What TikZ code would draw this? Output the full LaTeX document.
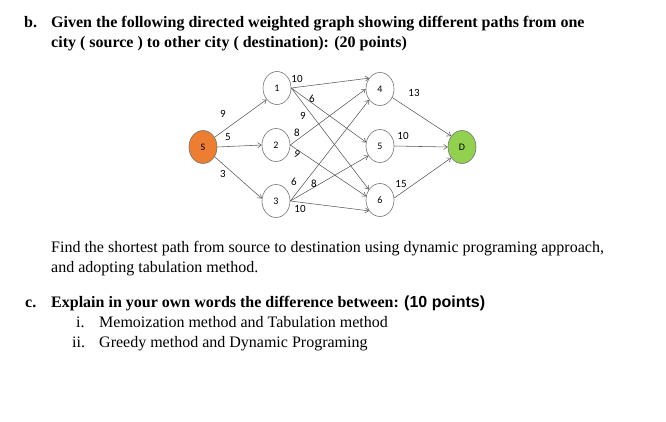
\documentclass[tikz,border=0pt]{standalone}
\usepackage{fontspec}
\setmainfont{Liberation Serif}
\newfontfamily\calfont{Carlito}
\newfontfamily\arialfont{Liberation Sans}
\usetikzlibrary{arrows.meta,shapes.geometric}
\begin{document}
\begin{tikzpicture}[x=1pt,y=-1pt,
  city/.style={ellipse,draw=black!55,line width=0.6pt,fill=white,minimum width=28pt,minimum height=33pt,inner sep=0pt,font=\calfont\fontsize{10}{11}\selectfont},
  road/.style={draw=black!65,line width=0.55pt,-{Straight Barb[length=3.5pt,width=5pt]}},
  wt/.style={font=\calfont\fontsize{11}{12}\selectfont,inner sep=0pt},
  para/.style={anchor=base west,inner sep=0pt,font=\fontsize{16}{18}\selectfont},
  bpara/.style={para,font=\bfseries\fontsize{16}{18}\selectfont}]
\useasboundingbox (0,0) rectangle (666,421);
% text
\node[bpara] (bl) at (24,27) {b.};
\node[bpara] (t1) at (51,27) {Given the following directed weighted graph showing different paths from one};
\node[bpara] (t2) at (51,47) {city ( source ) to other city ( destination): (20 points)};
\node[para] (p1) at (51,252) {Find the shortest path from source to destination using dynamic programing approach,};
\node[para] (p2) at (51,272) {and adopting tabulation method.};
\node[bpara] (cl) at (25,307) {c.};
\node[bpara] (c1) at (51,307) {Explain in your own words the difference between: {\arialfont(10 points)}};
\node[para] (i1) at (76,327) {i.};
\node[para] (i1t) at (99,327) {Memoization method and Tabulation method};
\node[para] (i2) at (72,347) {ii.};
\node[para] (i2t) at (99,347) {Greedy method and Dynamic Programing};
% graph
\node[city,fill={rgb,255:red,237;green,125;blue,49}] (S) at (203,147) {S};
\node[city] (n1) at (277,88) {1};
\node[city] (n2) at (276,145) {2};
\node[city] (n3) at (276,201) {3};
\node[city] (n4) at (380,89) {4};
\node[city] (n5) at (380,146) {5};
\node[city] (n6) at (380,200) {6};
\node[city,fill={rgb,255:red,146;green,208;blue,80}] (D) at (462,147) {D};
\draw[road] (S.40) -- (n1.228);
\draw[road] (S.east) -- (n2.west);
\draw[road] (S.-40) -- (n3.170);
\draw[road] (n1.east) -- (n4.135);
\draw[road] (n1.east) -- (n5.165);
\draw[road] (n1.east) -- (n6.137);
\draw[road] (n2.east) -- (n4.180);
\draw[road] (n2.east) -- (n6.165);
\draw[road] (n3.east) -- (n4.225);
\draw[road] (n3.east) -- (n5.220);
\draw[road] (n3.east) -- (n6.225);
\draw[road] (n4.-35) -- (D.135);
\draw[road] (n5.east) -- (D.west);
\draw[road] (n6.8) -- (D.225);
% weights
\node[wt] (wS1) at (223,114) {9};
\node[wt] (wS2) at (228,137) {5};
\node[wt] (wS3) at (223,174) {3};
\node[wt] (w14) at (297,79) {10};
\node[wt] (w15) at (312,99) {6};
\node[wt] (w16) at (303,116) {9};
\node[wt] (w24) at (297,133) {8};
\node[wt,rotate=-20] (w26) at (297,154) {9};
\node[wt] (w34) at (294,182) {6};
\node[wt] (w35) at (314,184) {8};
\node[wt] (w36) at (300,209) {10};
\node[wt] (w4D) at (414,93) {13};
\node[wt] (w5D) at (403,136) {10};
\node[wt] (w6D) at (401,184) {15};
\end{tikzpicture}
\end{document}
